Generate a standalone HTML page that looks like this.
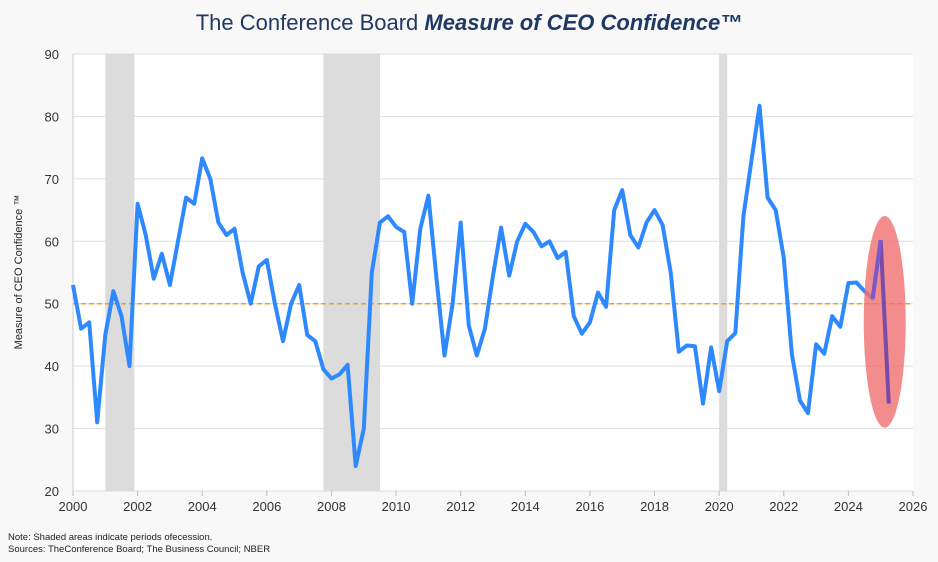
<!DOCTYPE html>
<html><head><meta charset="utf-8"><style>
body{margin:0;background:#f8f8f8;font-family:"Liberation Sans",sans-serif}
svg{display:block}
</style></head><body>
<svg id="c" width="938" height="562">
<rect x="0" y="0" width="938" height="562" fill="#f8f8f8"/>
<text x="469" y="30" text-anchor="middle" font-size="22" fill="#1f3864">The Conference Board <tspan font-weight="bold" font-style="italic">Measure of CEO Confidence™</tspan></text>
<text transform="translate(22,272) rotate(-90)" text-anchor="middle" font-size="11" fill="#222">Measure of CEO Confidence ™</text>
<text x="8" y="540" font-size="9.5" fill="#222">Note: Shaded areas indicate periods ofecession.</text>
<text x="8" y="552" font-size="9.5" fill="#222">Sources: TheConference Board; The Business Council; NBER</text>
<g id="plot"></g>
</svg>
<script>
const values=[53,46,47,31,45,52,48,40,66,61,54,58,53,60,67,66,73.3,70,63,61,62,55,50,56,57,50,44,50,53,45,44,39.5,38,38.7,40.2,24,30,55,63,64,62.3,61.5,50,62,67.3,54,41.7,50,63,46.5,41.7,46,54.5,62.2,54.5,60,62.8,61.5,59.2,60,57.3,58.3,48,45.2,47,51.8,49.5,65,68.2,61,59,63,65,62.6,55,42.3,43.3,43.2,34,43,36,44,45.3,64,73,81.7,67,65,57.3,42,34.5,32.5,43.5,42,48,46.3,53.3,53.4,52,50.8,60.2,34];
const startYear=2000;
const yTicks=[20,30,40,50,60,70,80,90];
const xTicks=[2000,2002,2004,2006,2008,2010,2012,2014,2016,2018,2020,2022,2024,2026];
const recessions=[[2001.0,2001.9],[2007.75,2009.5],[2020.0,2020.25]];
const refLine=50;
const NS='http://www.w3.org/2000/svg';
const L=73,R=913,T=54,B=491;
const xs=y=>L+(y-2000)/26*(R-L);
const ys=v=>B-(v-20)/70*(B-T);
const g=document.getElementById('plot');
function mk(t,a,p){const e=document.createElementNS(NS,t);for(const k in a)e.setAttribute(k,a[k]);(p||g).appendChild(e);return e;}
const bg=mk('rect',{x:L,y:T,width:R-L,height:B-T,fill:'#fff'});


recessions.forEach(r=>{const e=mk('rect',{x:xs(r[0]),y:T,width:xs(r[1])-xs(r[0]),height:B-T,fill:'#dcdcdc'});

});
yTicks.forEach(v=>{const l=mk('line',{x1:L,x2:R,y1:ys(v),y2:ys(v),stroke:'#ddd','stroke-width':1});


const t=mk('text',{x:L-14,y:ys(v)+5,'text-anchor':'end','font-size':13,fill:'#333'});t.textContent=v;

});
mk('line',{x1:L,x2:L,y1:T,y2:B,stroke:'#ccc'});
xTicks.forEach(y=>{const l=mk('line',{x1:xs(y),x2:xs(y),y1:B,y2:B+5,stroke:'#bbb'});


const t=mk('text',{x:xs(y),y:B+20,'text-anchor':'middle','font-size':13,fill:'#333'});t.textContent=y;

});
const rl=mk('line',{x1:L,x2:R,y1:ys(refLine),y2:ys(refLine),stroke:'#f0a020','stroke-width':1.5,'stroke-dasharray':'5,3'});


const n=values.length;
const xAt=i=>xs(startYear+i*0.25);
let d='';for(let i=0;i<n-1;i++)d+=(i?'L':'M')+xAt(i).toFixed(1)+','+ys(values[i]).toFixed(1);
const line=mk('path',{d:d,fill:'none',stroke:'#2e89ff','stroke-width':4,'stroke-linejoin':'round'});


const a=values[n-2],b=values[n-1];
const cx=(xAt(n-2)+xAt(n-1))/2,cy=(ys(a)+ys(b))/2,ry=Math.abs(ys(b)-ys(a))/2+24;
const el=mk('ellipse',{cx:cx,cy:cy,rx:21,ry:ry,fill:'#f07070','fill-opacity':0.8});


const seg=mk('path',{d:'M'+xAt(n-2)+','+ys(a)+'L'+xAt(n-1)+','+ys(b),stroke:'#7a4aa8','stroke-width':4,fill:'none'});


const seg0=mk('path',{d:'M'+xAt(n-3)+','+ys(values[n-3])+'L'+xAt(n-2)+','+ys(a),stroke:'#7a5ac8','stroke-width':4,fill:'none'});


</script>
</body></html>
